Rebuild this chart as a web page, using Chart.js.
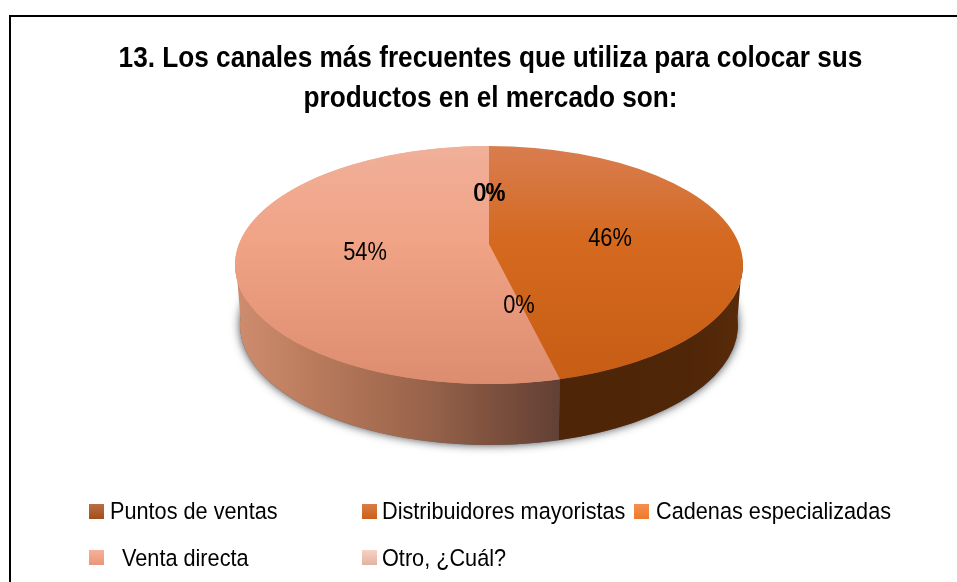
<!DOCTYPE html>
<html><head><meta charset="utf-8">
<style>html,body{margin:0;padding:0;background:#fff}#w{position:relative;width:957px;height:582px}canvas{display:block}</style>
<script src="https://cdn.jsdelivr.net/npm/chart.js@4"></script></head>
<body><div id="w"><canvas id="c" width="957" height="582"></canvas></div>
<script>
const titleLines = ['13. Los canales más frecuentes que utiliza para colocar sus', 'productos en el mercado son:'];
const categories = ['Puntos de ventas', 'Distribuidores mayoristas', 'Cadenas especializadas', 'Venta directa', 'Otro, ¿Cuál?'];
const values = [0, 46, 0, 54, 0];
const legendTop = [['#b86f45', '#a34f18'], ['#d97c4a', '#cc6016'], ['#f58f50', '#ee7a2c'], ['#f6b199', '#e9967a'], ['#f8d2c4', '#e2b2a2']];
const faceStops = [null, [[0, '#d97d50'], [0.4, '#d4691f'], [1, '#c75d14']], null, [[0, '#f0b09a'], [0.4, '#f1a385'], [1, '#dd8d6f']], null];

const FONT = '"Liberation Sans",Arial,sans-serif';
const ELLIPSE = {cx: 489, cy: 265, rx: 254, ry: 119};
const BASE = {cx: 489, cy: 325, rx: 249, ry: 120};
const APEX = {x: 489, y: 244};
const SEAM_SHIFT = 0.032;
const TITLE_SQUEEZE = 0.873, LEGEND_SQUEEZE = 0.885, LABEL_SQUEEZE = 0.84;
const labelSpots = [[489, 194], [610, 239], [519, 306], [365, 253], [490, 194]];
const legendSpots = [[89, 504, 110], [362, 504, 382], [634, 504, 656], [89, 550, 122], [362, 550, 382]];
const legendRowBase = [519, 519, 519, 566, 566];

function geom(chart) {
  const a = chart.chartArea;
  return {x: (a.left + a.right) / 2, y: (a.top + a.bottom) / 2, r: Math.min(a.right - a.left, a.bottom - a.top) / 2};
}
function rim(e, ang) { return [e.cx + e.rx * Math.cos(ang), e.cy + e.ry * Math.sin(ang)]; }
function squeezedText(ctx, text, x, y, sx) {
  ctx.save(); ctx.translate(x, y); ctx.scale(sx, 1); ctx.fillText(text, 0, 0); ctx.restore();
}
function sidePath(ctx, a0, a1) {
  ctx.beginPath();
  ctx.ellipse(ELLIPSE.cx, ELLIPSE.cy, ELLIPSE.rx, ELLIPSE.ry, 0, a0, a1, false);
  ctx.ellipse(BASE.cx, BASE.cy, BASE.rx, BASE.ry, 0, a1, a0, true);
  ctx.closePath();
}
const pie3d = {
  id: 'pie3d',
  afterLayout(chart) {
    const t = chart.titleBlock;
    if (t && !t._squeezed) {
      const d = t.draw.bind(t), ctx = chart.ctx, mid = (t.left + t.right) / 2;
      t.draw = (...a) => {
        ctx.save(); ctx.translate(mid, 0); ctx.scale(TITLE_SQUEEZE, 1); ctx.translate(-mid, 0);
        d(...a); ctx.restore();
      };
      t._squeezed = true;
    }
  },
  beforeDatasetsDraw(chart) {
    const ctx = chart.ctx, arcs = chart.getDatasetMeta(0).data, g = geom(chart);
    const seam = arcs[1].endAngle - SEAM_SHIFT;
    ctx.save();
    ctx.shadowColor = 'rgba(20,25,35,0.8)'; ctx.shadowBlur = 10; ctx.shadowOffsetY = 0;
    ctx.fillStyle = '#666';
    ctx.beginPath(); ctx.ellipse(BASE.cx, BASE.cy, BASE.rx, BASE.ry, 0, 0, Math.PI * 2); ctx.fill();
    ctx.restore();
    const gs = ctx.createLinearGradient(ELLIPSE.cx - ELLIPSE.rx, 0, rim(ELLIPSE, seam)[0], 0);
    gs.addColorStop(0, '#cf8d6f'); gs.addColorStop(0.25, '#b97a5c'); gs.addColorStop(0.55, '#9c664c');
    gs.addColorStop(0.85, '#764c3b'); gs.addColorStop(1, '#624035');
    sidePath(ctx, seam, Math.PI + 0.06); ctx.fillStyle = gs; ctx.fill();
    const go = ctx.createLinearGradient(rim(ELLIPSE, seam)[0], 0, ELLIPSE.cx + ELLIPSE.rx, 0);
    go.addColorStop(0, '#4f2507'); go.addColorStop(0.7, '#4f2608'); go.addColorStop(1, '#582b0a');
    sidePath(ctx, -0.06, seam); ctx.fillStyle = go; ctx.fill();
    ctx.save();
    ctx.translate(ELLIPSE.cx, ELLIPSE.cy);
    ctx.scale(ELLIPSE.rx / g.r, ELLIPSE.ry / g.r);
    ctx.translate(-g.x, -g.y);
  },
  afterDatasetsDraw(chart) {
    const ctx = chart.ctx, arcs = chart.getDatasetMeta(0).data, g = geom(chart);
    ctx.restore();
    const arc = arcs[3];
    const s = arc.startAngle, c = arc.circumference;
    const seamPt = rim(ELLIPSE, arcs[1].endAngle - SEAM_SHIFT);
    ctx.save();
    ctx.beginPath();
    ctx.moveTo(APEX.x, APEX.y);
    ctx.lineTo(seamPt[0] + (seamPt[0] - APEX.x) * 0.2, seamPt[1] + (seamPt[1] - APEX.y) * 0.2);
    ctx.lineTo(ELLIPSE.cx - ELLIPSE.rx - 10, ELLIPSE.cy + ELLIPSE.ry + 30);
    ctx.lineTo(ELLIPSE.cx - ELLIPSE.rx - 10, ELLIPSE.cy - ELLIPSE.ry - 10);
    ctx.lineTo(APEX.x, ELLIPSE.cy - ELLIPSE.ry - 10);
    ctx.closePath();
    ctx.clip();
    ctx.translate(ELLIPSE.cx, ELLIPSE.cy);
    ctx.scale(ELLIPSE.rx / g.r, ELLIPSE.ry / g.r);
    ctx.translate(-g.x, -g.y);
    arc.startAngle = -Math.PI / 2; arc.circumference = Math.PI * 2 - 0.001;
    const e = arc.endAngle; arc.endAngle = arc.startAngle + arc.circumference;
    arc.draw(ctx, chart.chartArea);
    arc.startAngle = s; arc.circumference = c; arc.endAngle = e;
    ctx.restore();
  },
  afterDraw(chart) {
    const ctx = chart.ctx;
    ctx.save();
    ctx.strokeStyle = '#000'; ctx.lineWidth = 2;
    ctx.beginPath(); ctx.moveTo(10, 582); ctx.lineTo(10, 16); ctx.lineTo(957, 16); ctx.stroke();
    ctx.font = '26px ' + FONT; ctx.fillStyle = '#000'; ctx.textAlign = 'center'; ctx.textBaseline = 'middle';
    values.forEach((v, i) => squeezedText(ctx, v + '%', labelSpots[i][0], labelSpots[i][1], LABEL_SQUEEZE));
    ctx.font = '24.5px ' + FONT; ctx.textAlign = 'left'; ctx.textBaseline = 'alphabetic';
    categories.forEach((name, i) => {
      const [bx, by, tx] = legendSpots[i];
      const gr = ctx.createLinearGradient(0, by, 0, by + 15);
      gr.addColorStop(0, legendTop[i][0]); gr.addColorStop(1, legendTop[i][1]);
      ctx.fillStyle = gr; ctx.fillRect(bx, by, 15, 15);
      ctx.fillStyle = '#000';
      squeezedText(ctx, name, tx, legendRowBase[i], LEGEND_SQUEEZE);
    });
    ctx.restore();
  }
};
new Chart(document.getElementById('c'), {
  type: 'pie',
  data: {labels: categories, datasets: [{
    data: values, borderWidth: 0,
    backgroundColor(c) {
      const stops = faceStops[c.dataIndex];
      if (!stops || !c.chart.chartArea) return '#d4691f';
      const g = geom(c.chart);
      const gr = c.chart.ctx.createLinearGradient(0, g.y - g.r, 0, g.y + g.r);
      stops.forEach(s => gr.addColorStop(s[0], s[1]));
      return gr;
    }
  }]},
  options: {
    responsive: false, animation: false,
    layout: {padding: {left: 24, right: 0, top: 0, bottom: 110}},
    plugins: {
      legend: {display: false}, tooltip: {enabled: false},
      title: {display: true, text: titleLines, color: '#000', padding: {top: 38, bottom: 0},
        font: {family: FONT, size: 30, weight: 'bold', lineHeight: 1.35}}
    }
  },
  plugins: [pie3d]
});
</script></body></html>
